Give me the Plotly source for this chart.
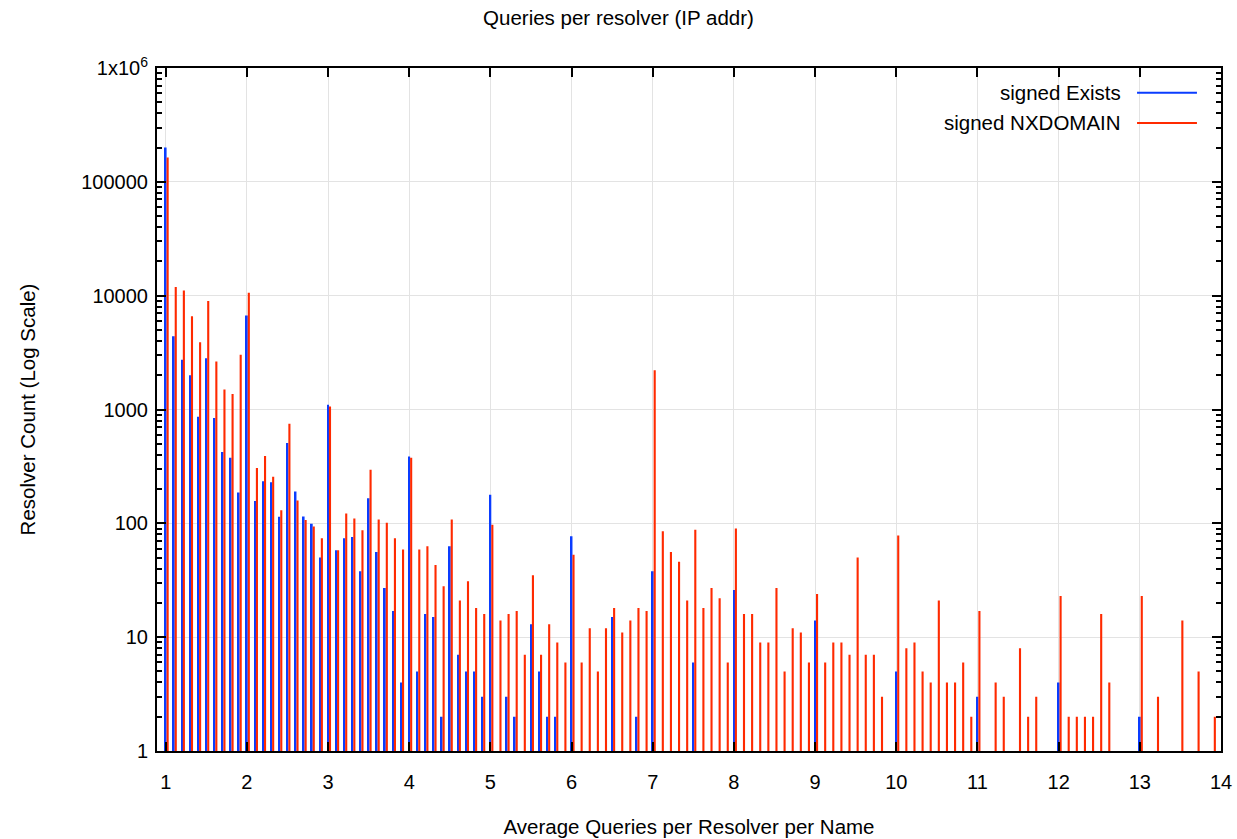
import plotly.graph_objects as go

# ---- data ----
exists_x = [1.0, 1.1, 1.2, 1.3, 1.4, 1.5, 1.6, 1.7, 1.8, 1.9, 2.0, 2.1, 2.2, 2.3, 2.4, 2.5, 2.6, 2.7, 2.8, 2.9,
            3.0, 3.1, 3.2, 3.3, 3.4, 3.5, 3.6, 3.7, 3.8, 3.9, 4.0, 4.1, 4.2, 4.3, 4.4, 4.5, 4.6, 4.7, 4.8, 4.9,
            5.0, 5.2, 5.3, 5.5, 5.6, 5.7, 5.8, 6.0, 6.5, 6.8, 7.0, 7.5, 8.0, 9.0, 10.0, 11.0, 12.0, 13.0]
exists_y = [200000, 4400, 2740, 2000, 865, 2820, 840, 424, 377, 187, 6690, 157, 234, 230, 114, 508, 190, 115, 99, 50,
            1100, 58, 74, 76, 38, 166, 56, 27, 17, 4, 387, 5, 16, 15, 2, 63, 7, 5, 5, 3,
            178, 3, 2, 13, 5, 2, 2, 77, 15, 2, 38, 6, 26, 14, 5, 3, 4, 2]

nx_x = [1.0, 1.1, 1.2, 1.3, 1.4, 1.5, 1.6, 1.7, 1.8, 1.9, 2.0, 2.1, 2.2, 2.3, 2.4, 2.5, 2.6, 2.7, 2.8, 2.9,
        3.0, 3.1, 3.2, 3.3, 3.4, 3.5, 3.6, 3.7, 3.8, 3.9, 4.0, 4.1, 4.2, 4.3, 4.4, 4.5, 4.6, 4.7, 4.8, 4.9,
        5.0, 5.1, 5.2, 5.3, 5.4, 5.5, 5.6, 5.7, 5.8, 5.9, 6.0, 6.1, 6.2, 6.3, 6.4, 6.5, 6.6, 6.7, 6.8, 6.9,
        7.0, 7.1, 7.2, 7.3, 7.4, 7.5, 7.6, 7.7, 7.8, 7.9, 8.0, 8.1, 8.2, 8.3, 8.4, 8.5, 8.6, 8.7, 8.8, 8.9,
        9.0, 9.1, 9.2, 9.3, 9.4, 9.5, 9.6, 9.7, 9.8, 10.0, 10.1, 10.2, 10.3, 10.4, 10.5, 10.6, 10.7, 10.8, 10.9,
        11.0, 11.2, 11.3, 11.5, 11.6, 11.7, 12.0, 12.1, 12.2, 12.3, 12.4, 12.5, 12.6,
        13.0, 13.2, 13.5, 13.7, 13.9]
nx_y = [164000, 11900, 11100, 6600, 3900, 9000, 2640, 1500, 1370, 3020, 10600, 306, 391, 256, 130, 748, 159, 107, 94, 74,
        1060, 58, 122, 110, 87, 296, 108, 101, 74, 59, 377, 59, 63, 43, 28, 108, 21, 31, 18, 16,
        97, 14, 16, 17, 7, 35, 7, 13, 9, 6, 53, 6, 12, 5, 12, 18, 11, 14, 18, 17,
        2210, 85, 56, 46, 21, 88, 18, 27, 22, 6, 90, 16, 16, 9, 9, 27, 5, 12, 11, 6,
        24, 6, 9, 9, 7, 50, 7, 7, 3, 78, 8, 9, 5, 4, 21, 4, 4, 6, 2,
        17, 4, 3, 8, 2, 3, 23, 2, 2, 2, 2, 16, 4,
        23, 3, 14, 5, 2]

x_ticks = list(range(1, 15))
y_tickvals = [1, 10, 100, 1000, 10000, 100000, 1000000]
y_ticktext = ["1", "10", "100", "1000", "10000", "100000", "1x10<sup>6</sup>"]
y_minor = [m * 10 ** d for d in range(0, 6) for m in range(2, 10)]

BLUE = "#0a3cff"
RED = "#ff2a00"
FONT = "Liberation Sans, Arial, Helvetica, sans-serif"

fig = go.Figure()
fig.add_trace(go.Bar(x=exists_x, y=exists_y, name="signed Exists", marker=dict(color=BLUE, line=dict(width=0)),
                     width=0.022, offset=-0.011, showlegend=False))
fig.add_trace(go.Bar(x=nx_x, y=nx_y, name="signed NXDOMAIN", marker=dict(color=RED, line=dict(width=0)),
                     width=0.026, offset=0.011, showlegend=False))

# custom gnuplot-like legend (text right, sample line to the right)
legend_items = [("signed Exists", BLUE, 0.9638), ("signed NXDOMAIN", RED, 0.9195)]
for label, col, yy in legend_items:
    fig.add_annotation(x=0.9077, y=yy, xref="paper", yref="paper", text=label, showarrow=False,
                       xanchor="right", yanchor="middle", font=dict(family=FONT, size=20.5, color="black"))
    fig.add_shape(type="line", xref="paper", yref="paper", x0=0.9211, x1=0.9774, y0=yy, y1=yy,
                  line=dict(color=col, width=2))

fig.update_layout(
    width=1237, height=839,
    margin=dict(l=157, r=16, t=68, b=88, autoexpand=False),
    paper_bgcolor="white", plot_bgcolor="white",
    barmode="overlay",
    font=dict(family=FONT, size=20, color="black"),
    title=dict(text="Queries per resolver (IP addr)", x=0.5, xanchor="center", y=0.9785, yanchor="middle",
               font=dict(family=FONT, size=20.5)),
)
fig.update_xaxes(
    range=[0.893, 14.0], tickvals=x_ticks, ticks="inside", ticklen=9, tickwidth=2, tickcolor="black",
    showline=True, linecolor="black", linewidth=2, mirror="allticks",
    showgrid=True, gridcolor="#e3e3e3", gridwidth=1, zeroline=False, automargin=False,
    ticklabelstandoff=12,
    title=dict(text="Average Queries per Resolver per Name", standoff=28, font=dict(size=20.5)),
    tickfont=dict(size=20),
)
fig.update_yaxes(
    type="log", range=[0, 6], tickvals=y_tickvals, ticktext=y_ticktext, ticks="inside", ticklen=9, tickwidth=2,
    tickcolor="black", showline=True, linecolor="black", linewidth=2, mirror="allticks",
    showgrid=True, gridcolor="#e3e3e3", gridwidth=1, zeroline=False, automargin=False,
    ticklabelstandoff=3,
    minor=dict(tickvals=y_minor, ticks="inside", ticklen=5, tickwidth=2, tickcolor="black", showgrid=False),
    title=dict(text="Resolver Count (Log Scale)", standoff=40, font=dict(size=20.5)),
    tickfont=dict(size=20),
)

fig.write_html("out.html")
